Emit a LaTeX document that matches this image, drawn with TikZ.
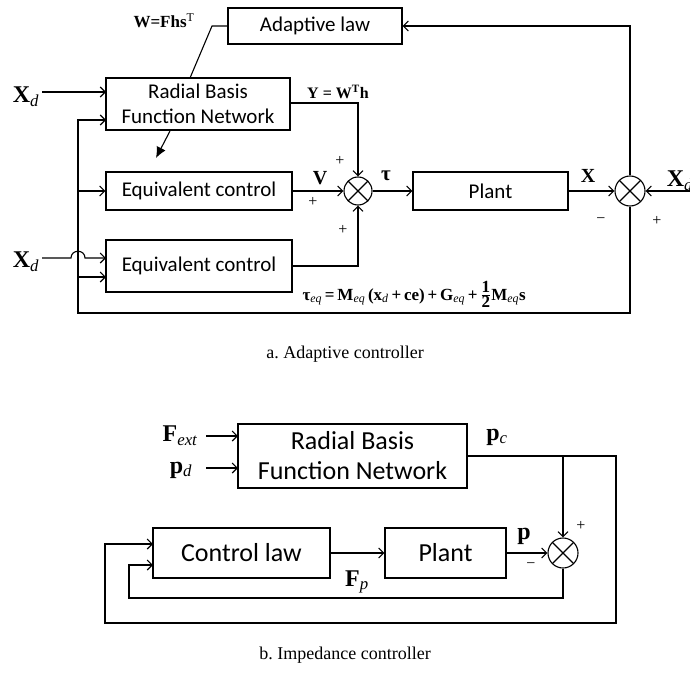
\documentclass[tikz,border=0pt]{standalone}
\usepackage{fontspec}
\setmainfont{Liberation Serif}
\newfontfamily\boxfont{Carlito}
\usetikzlibrary{arrows.meta}
\begin{document}
\begin{tikzpicture}[x=1pt,y=-1pt,
  line width=1.1pt,
  >={Straight Barb[length=5pt,width=10pt]},
  blk/.style={draw, rectangle, inner sep=0pt, align=center,
    font=\boxfont\fontsize{21}{25}\selectfont},
  blkb/.style={blk, font=\boxfont\fontsize{26}{30}\selectfont},
  sumj/.style={draw, circle, minimum size=28pt, inner sep=0pt,
    path picture={\draw[line width=1.1pt]
      (path picture bounding box.north west) -- (path picture bounding box.south east)
      (path picture bounding box.north east) -- (path picture bounding box.south west);}},
  lbl/.style={inner sep=0pt, font=\fontsize{24}{26}\selectfont},
  slbl/.style={inner sep=0pt, font=\fontsize{17}{19}\selectfont},
  sgn/.style={inner sep=0pt, font=\fontsize{16}{18}\selectfont},
  captxt/.style={inner sep=0pt, font=\fontsize{18}{20}\selectfont}]
\useasboundingbox (0,0) rectangle (690,690);
\fill[white] (0,0) rectangle (690,690);

% ---------- part a ----------
\node[blk, minimum width=174pt, minimum height=36pt] (adapt) at (315,26) {Adaptive law};
\node[blk, minimum width=184pt, minimum height=52pt] (rbfA) at (198,104) {Radial Basis\\Function Network};
\node[blk, minimum width=186pt, minimum height=38pt] (eq1) at (199,191) {Equivalent control};
\node[blk, minimum width=186pt, minimum height=52pt] (eq2) at (199,266) {Equivalent control};
\node[sumj] (sA) at (358,191) {};
\node[blk, minimum width=155pt, minimum height=38pt] (plantA) at (490.5,191) {Plant};
\node[sumj, minimum size=30pt] (sB) at (630,191) {};

\coordinate (xdA) at (42,92);
\coordinate (rbfIn1) at (106,92);
\coordinate (fbTop) at (106,120);
\coordinate (fbBot) at (78,313);
\coordinate (wc) at (212,26);
\coordinate (wEnd) at (190,78);
\coordinate (yc) at (358,103);
\coordinate (dgS) at (170,131);
\coordinate (dgE) at (156,158);
\coordinate (xdB) at (42,258);
\coordinate (hopA) at (71,258);
\coordinate (hopB) at (85,258);
\coordinate (eq2In1) at (106,258);
\coordinate (eq2In2) at (106,277);
\coordinate (fbEq2) at (78,277);
\coordinate (xdR) at (690,191);

\draw[->] (xdA) -- (rbfIn1);
\draw (adapt.west) -- (wc) -- (wEnd);
\draw[->] (sB.north) |- (adapt.east);
\draw[->] (sB.south) |- (fbBot) |- (fbTop);
\draw[->] (fbBot |- eq1.west) -- (eq1.west);
\draw[->] (fbEq2) -- (eq2In2);
\draw[->] (xdB) -- (hopA) .. controls (71,249) and (85,249) .. (hopB) -- (eq2In1);
\draw[->] (rbfA.east |- yc) -- (yc) -- (sA.north);
\draw[-{Latex[length=11pt,width=10pt]}] (dgS) -- (dgE);
\draw[->] (eq1.east) -- (sA.west);
\draw[->] (eq2.east) -| (sA.south);
\draw[->] (sA.east) -- (plantA.west);
\draw[->] (plantA.east) -- (sB.west);
\draw[->] (xdR) -- (sB.east);

\node[lbl] (lXd1) at (26,97) {\textbf{X}\textsubscript{\itshape d}};
\node[lbl] (lXd2) at (26,262) {\textbf{X}\textsubscript{\itshape d}};
\node[lbl] (lXd3) at (680,181) {\textbf{X}\textsubscript{\itshape d}};
\node[slbl] (lW) at (164,21) {\textbf{W=Fhs}\textsuperscript{T}};
\node[slbl, font=\fontsize{16}{18}\selectfont] (lY) at (338,92) {\textbf{Y = W}\textsuperscript{\textbf{T}}\textbf{h}};
\node[lbl, font=\fontsize{20}{22}\selectfont] (lV) at (320,178) {\textbf{V}};
\node[lbl, font=\fontsize{21}{23}\selectfont] (lT) at (386,176) {\textbf{τ}};
\node[lbl, font=\fontsize{20}{22}\selectfont] (lX) at (588,176) {\textbf{X}};
\node[sgn] at (340,161) {+};
\node[sgn] at (313,202) {+};
\node[sgn] at (343,230) {+};
\node[sgn] at (601,221) {−};
\node[sgn] at (657,221) {+};
\node[slbl, anchor=base west] (lTeq) at (302,300)
  {\textbf{τ}\textsubscript{\itshape eq}\textbf{\,=\,M}\textsubscript{\itshape eq}\,\textbf{(x}\textsubscript{\itshape d}\textbf{\,+\,ce)\,+\,G}\textsubscript{\itshape eq}\textbf{\,+\,}\raisebox{0.5pt}{$\frac{\textbf{1}}{\textbf{2}}$}\textbf{M}\textsubscript{\itshape eq}\textbf{s}};

\node[captxt] at (345,354) {a.\ Adaptive controller};

% ---------- part b ----------
\node[blkb, minimum width=229pt, minimum height=64pt] (rbfB) at (352.5,456) {Radial Basis\\Function Network};
\node[blkb, minimum width=177pt, minimum height=50pt] (ctrl) at (241.5,553) {Control law};
\node[blkb, minimum width=121pt, minimum height=50pt] (plantB) at (445.5,553) {Plant};
\node[sumj, minimum size=30pt] (sC) at (563,553) {};

\coordinate (fext) at (206,436);
\coordinate (fextE) at (238,436);
\coordinate (pd) at (206,468);
\coordinate (pdE) at (238,468);
\coordinate (oR) at (616,623);
\coordinate (oL) at (105,623);
\coordinate (cin1) at (153,544);
\coordinate (iL) at (129,598);
\coordinate (cin2) at (153,565);

\draw[->] (fext) -- (fextE);
\draw[->] (pd) -- (pdE);
\draw[->] (rbfB.east) -| (oR) -- (oL) |- (cin1);
\draw[->] (sC.north |- rbfB.east) -- (sC.north);
\draw[->] (ctrl.east) -- (plantB.west);
\draw[->] (plantB.east) -- (sC.west);
\draw[->] (sC.south) |- (iL) |- (cin2);

\node[lbl] (lF) at (180,436) {\textbf{F}\textsubscript{\itshape ext}};
\node[lbl] (lpd) at (181,470) {\textbf{p}\textsubscript{\itshape d}};
\node[lbl] (lpc) at (497,437) {\textbf{p}\textsubscript{\itshape c}};
\node[lbl] (lp) at (524,536) {\textbf{p}};
\node[lbl] (lFp) at (357,582) {\textbf{F}\textsubscript{\itshape p}};
\node[sgn] at (581,526) {+};
\node[sgn] at (531,566) {−};

\node[captxt] at (345,655) {b.\ Impedance controller};
\end{tikzpicture}
\end{document}
